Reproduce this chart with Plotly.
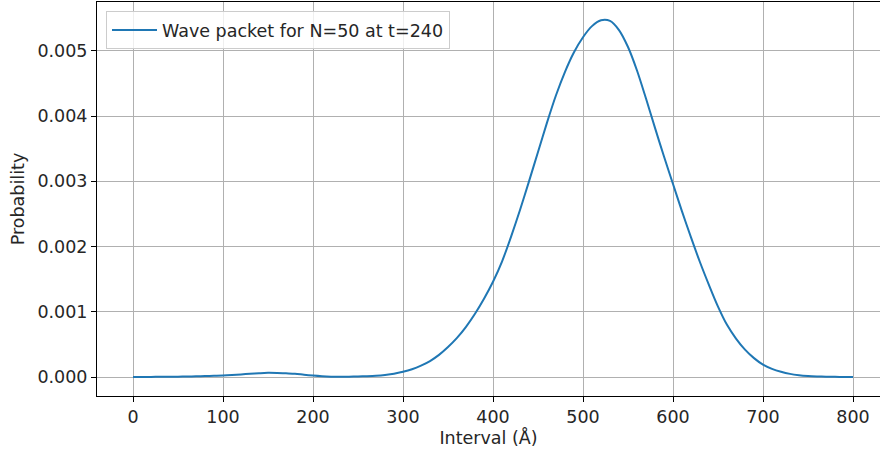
import plotly.graph_objects as go

x_interval = list(range(0, 801, 10))
probability = [
    0.000000, 0.000001, 0.000002, 0.000003, 0.000004, 0.000006, 0.000008, 0.000011,
    0.000014, 0.000018, 0.000022, 0.000030, 0.000040, 0.000050, 0.000058, 0.000064,
    0.000062, 0.000056, 0.000050, 0.000035, 0.000022, 0.000012, 0.000006, 0.000004,
    0.000005, 0.000008, 0.000013, 0.000020, 0.000032, 0.000050, 0.000080, 0.000120,
    0.000175, 0.000245, 0.000340, 0.000460, 0.000600, 0.000770, 0.000970, 0.001200,
    0.001460, 0.001770, 0.002150, 0.002560, 0.003000, 0.003450, 0.003900, 0.004320,
    0.004680, 0.004980, 0.005210, 0.005380, 0.005470, 0.005460, 0.005320, 0.005060,
    0.004700, 0.004270, 0.003820, 0.003380, 0.002960, 0.002540, 0.002140, 0.001760,
    0.001410, 0.001080, 0.000800, 0.000590, 0.000420, 0.000290, 0.000190, 0.000125,
    0.000080, 0.000048, 0.000028, 0.000016, 0.000009, 0.000005, 0.000003, 0.000001,
    0.000000,
]
x_ticks = [0, 100, 200, 300, 400, 500, 600, 700, 800]
y_ticks = [0.0, 0.001, 0.002, 0.003, 0.004, 0.005]

FONT = "DejaVu Sans"
FS = 17.5
TXT = "#262626"

fig = go.Figure()
fig.add_trace(go.Scatter(
    x=x_interval, y=probability, mode="lines",
    line=dict(color="#1f77b4", width=2, shape="spline", smoothing=0.8),
    name="Wave packet for N=50 at t=240",
))

fig.update_layout(
    width=880, height=452,
    margin=dict(l=97, r=0, t=2, b=56),
    paper_bgcolor="white", plot_bgcolor="white",
    font=dict(family=FONT, size=FS, color=TXT),
    showlegend=True,
    legend=dict(
        x=0.0115, y=0.977, xanchor="left", yanchor="top",
        bgcolor="rgba(255,255,255,0.8)", bordercolor="#cccccc", borderwidth=1,
        font=dict(family=FONT, size=FS, color=TXT),
        itemwidth=45,
    ),
    xaxis=dict(
        range=[-40, 830], tickvals=x_ticks, ticktext=[str(v) for v in x_ticks],
        showgrid=True, gridcolor="#b0b0b0", gridwidth=1,
        showline=True, linecolor="black", linewidth=1, mirror=True,
        ticks="outside", ticklen=5, tickcolor="black", tickwidth=1,
        zeroline=False,
        title=dict(text="Interval (Å)", standoff=4, font=dict(family=FONT, size=FS, color=TXT)),
        tickfont=dict(family=FONT, size=FS, color=TXT),
    ),
    yaxis=dict(
        range=[-0.000291, 0.00575], tickvals=y_ticks, tickformat=".3f",
        showgrid=True, gridcolor="#b0b0b0", gridwidth=1,
        showline=True, linecolor="black", linewidth=1, mirror=False,
        ticks="outside", ticklen=5, tickcolor="black", tickwidth=1,
        zeroline=False,
        title=dict(text="Probability", standoff=8, font=dict(family=FONT, size=FS, color=TXT)),
        tickfont=dict(family=FONT, size=FS, color=TXT),
    ),
)

fig.write_html("out.html")
